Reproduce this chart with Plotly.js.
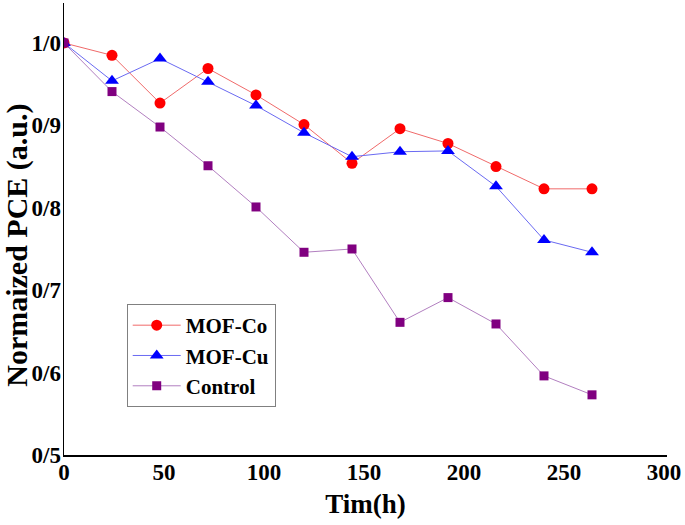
<!DOCTYPE html>
<html>
<head>
<meta charset="utf-8">
<script src="https://cdn.plot.ly/plotly-3.0.1.min.js"></script>
<style>html,body{margin:0;padding:0;background:#fff;}#chart{width:685px;height:525px;}</style>
</head>
<body>
<div id="chart"></div>
<script>
const hours = [0, 24, 48, 72, 96, 120, 144, 168, 192, 216, 240, 264];
const mofCo = [1.000, 0.985, 0.927, 0.969, 0.937, 0.901, 0.854, 0.896, 0.878, 0.850, 0.823, 0.823];
const mofCu = [1.000, 0.954, 0.981, 0.953, 0.924, 0.891, 0.862, 0.868, 0.869, 0.826, 0.761, 0.746];
const control = [1.000, 0.941, 0.898, 0.851, 0.801, 0.746, 0.750, 0.661, 0.691, 0.659, 0.596, 0.573];
const yTickVals = [0.5, 0.6, 0.7, 0.8, 0.9, 1.0];
const yTickText = ["0/5", "0/6", "0/7", "0/8", "0/9", "1/0"];
const xTickVals = [0, 50, 100, 150, 200, 250, 300];
const xTitle = "Tim(h)";
const yTitle = "Normaized PCE (a.u.)";

const font = "'Liberation Serif', 'Times New Roman', Times, serif";

const traces = [
  {x: hours, y: mofCo, name: "MOF-Co", mode: "lines+markers",
   line: {color: "#f06a6a", width: 1},
   marker: {symbol: "circle", size: 11, color: "#ff0000"}},
  {x: hours, y: mofCu, name: "MOF-Cu", mode: "lines+markers",
   line: {color: "#6a6af2", width: 1},
   marker: {symbol: "triangle-up", size: 12, color: "#0000ff"}},
  {x: hours, y: control, name: "Control", mode: "lines+markers",
   line: {color: "#b27fc0", width: 1},
   marker: {symbol: "square", size: 9, color: "#800080"}}
];

const layout = {
  width: 685, height: 525,
  margin: {l: 64, r: 18, t: 3, b: 70},
  paper_bgcolor: "#fff", plot_bgcolor: "#fff",
  font: {family: font, color: "#000", size: 22, weight: "bold"},
  showlegend: true,
  legend: {x: 0.104, y: 0.334, xanchor: "left", yanchor: "top",
    bordercolor: "#808080", borderwidth: 1, bgcolor: "#fff",
    itemwidth: 48,
    font: {family: font, size: 21, color: "#000", weight: "bold"},
    tracegroupgap: 0},
  xaxis: {range: [0, 301.5], tickvals: xTickVals, ticks: "", showgrid: false, zeroline: false,
    showline: true, linecolor: "#000", linewidth: 1.5, mirror: false,
    tickfont: {family: font, size: 23, weight: "bold"}, ticklabelstandoff: -4,
    title: {text: xTitle, font: {family: font, size: 27, weight: "bold"}, standoff: 10}},
  yaxis: {range: [0.5, 1.0485], tickvals: yTickVals, ticktext: yTickText, ticks: "", showgrid: false, zeroline: false,
    showline: true, linecolor: "#000", linewidth: 1.5, mirror: false,
    tickfont: {family: font, size: 23, weight: "bold"}, ticklabelstandoff: -3},
  annotations: [
    {text: yTitle, textangle: -90, xref: "paper", yref: "paper",
     x: -0.078, y: 0.465, xanchor: "center", yanchor: "middle", showarrow: false,
     font: {family: font, size: 30, weight: "bold", color: "#000"}}
  ]
};

Plotly.newPlot("chart", traces, layout, {displayModeBar: false, staticPlot: true});
</script>
</body>
</html>
